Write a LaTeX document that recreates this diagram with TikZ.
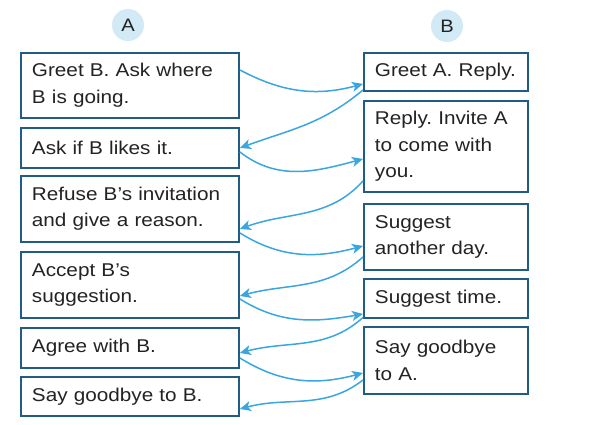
\documentclass[tikz,border=0pt]{standalone}
\usepackage{fontspec}
\setmainfont{Liberation Sans}[FakeStretch=1.12]
\usetikzlibrary{arrows.meta}
\definecolor{boxline}{RGB}{32,92,132}
\definecolor{arrowblue}{RGB}{58,166,224}
\definecolor{circfill}{RGB}{210,234,246}
\definecolor{txt}{RGB}{35,35,35}
\tikzset{
  stepbox/.style={draw=boxline, line width=1.9pt, fill=white, anchor=north west,
    inner xsep=11pt, inner ysep=0pt, align=left, text=txt,
    font=\fontsize{18.5}{26.5}\selectfont\frenchspacing},
  head/.style={circle, fill=circfill, minimum size=32pt, inner sep=0pt, text=txt,
    font=\fontsize{18}{20}\selectfont},
  conn/.style={draw=arrowblue, line width=1.5pt,
    -{Stealth[length=11pt,width=10pt,inset=3pt]}}
}
\begin{document}
\begin{tikzpicture}[x=1pt,y=1pt]
\useasboundingbox (0,0) rectangle (613,-424);
% headers
\node[head] (hA) at (128,-25) {A};
\node[head] (hB) at (447,-26) {B};
% A column
\node[stepbox, minimum width=218pt, minimum height=65pt, text width=196pt] (A1) at (20,-52) {Greet B. Ask where\\B is going.};
\node[stepbox, minimum width=218pt, minimum height=40pt, text width=196pt] (A2) at (20,-127) {Ask if B likes it.};
\node[stepbox, minimum width=218pt, minimum height=66pt, text width=196pt] (A3) at (20,-175) {Refuse B’s invitation\\and give a reason.};
\node[stepbox, minimum width=218pt, minimum height=66pt, text width=196pt] (A4) at (20,-251) {Accept B’s\\suggestion.};
\node[stepbox, minimum width=218pt, minimum height=40pt, text width=196pt] (A5) at (20,-327) {Agree with B.};
\node[stepbox, minimum width=218pt, minimum height=39pt, text width=196pt] (A6) at (20,-376) {Say goodbye to B.};
% B column
\node[stepbox, minimum width=164pt, minimum height=38pt, text width=142pt] (B1) at (363,-52) {Greet A. Reply.};
\node[stepbox, minimum width=164pt, minimum height=91pt, text width=142pt] (B2) at (363,-100) {Reply. Invite A\\to come with\\you.};
\node[stepbox, minimum width=164pt, minimum height=66pt, text width=142pt] (B3) at (363,-203) {Suggest\\another day.};
\node[stepbox, minimum width=164pt, minimum height=39pt, text width=142pt] (B4) at (363,-278) {Suggest time.};
\node[stepbox, minimum width=164pt, minimum height=67pt, text width=142pt] (B5) at (363,-326) {Say goodbye\\to A.};
% connectors
\draw[conn] ([yshift=15.5pt]A1.east) to[out=-28,in=195] ([yshift=-12pt]B1.west);
\draw[conn] ([yshift=-18pt]B1.west) to[out=220,in=20] (A2.east);
\draw[conn] ([yshift=-4pt]A2.east) to[out=-38,in=195] ([yshift=-12.5pt]B2.west);
\draw[conn] ([yshift=-34.5pt]B2.west) to[out=228,in=20] ([yshift=-20pt]A3.east);
\draw[conn] ([yshift=-24pt]A3.east) to[out=-32,in=195] ([yshift=-9pt]B3.west);
\draw[conn] ([yshift=-20pt]B3.west) to[out=222,in=15] ([yshift=-11pt]A4.east);
\draw[conn] ([yshift=-14pt]A4.east) to[out=-32,in=190] ([yshift=-15.5pt]B4.west);
\draw[conn] ([yshift=-19pt]B4.west) to[out=222,in=15] ([yshift=-5pt]A5.east);
\draw[conn] ([yshift=-10pt]A5.east) to[out=-32,in=195] ([yshift=-12.5pt]B5.west);
\draw[conn] ([yshift=-19.5pt]B5.west) to[out=218,in=15] ([yshift=-12.5pt]A6.east);
\end{tikzpicture}
\end{document}
